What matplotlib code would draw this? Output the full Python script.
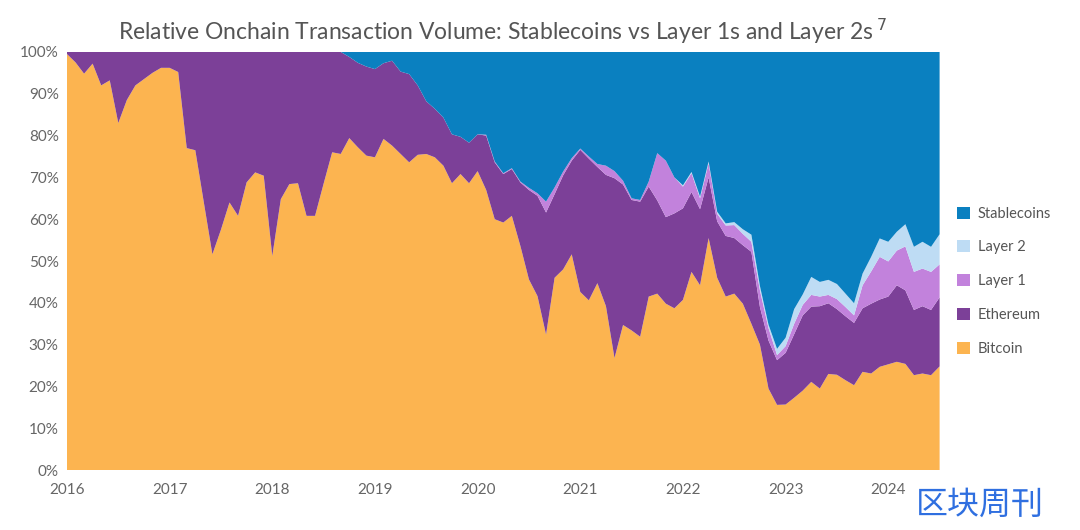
import numpy as np
import matplotlib
matplotlib.use("Agg")
import matplotlib.pyplot as plt

# Monthly shares (%), Jan 2016 .. Jul 2024
bitcoin = [99.5, 97.5, 94.8, 97.2, 92.0, 93.2, 83.0, 88.5, 92.0, 93.5, 95.0, 96.2,
           96.2, 95.2, 77.0, 76.5, 64.0, 51.6, 57.5, 64.0, 60.8, 68.8, 71.2, 70.4,
           51.2, 64.8, 68.4, 68.6, 60.8, 60.8, 68.5, 76.0, 75.6, 79.4, 77.2, 75.2,
           74.8, 79.2, 77.6, 75.6, 73.6, 75.4, 75.6, 74.8, 72.8, 68.6, 70.8, 68.6,
           71.5, 67.0, 60.0, 59.2, 60.8, 53.6, 45.6, 41.6, 32.4, 46.0, 48.0, 51.6,
           42.6, 40.6, 44.7, 39.2, 26.8, 34.7, 33.4, 31.9, 41.5, 42.2, 39.8, 38.7,
           40.7, 47.4, 44.2, 55.5, 46.0, 41.5, 42.2, 39.8, 35.0, 30.0, 19.5, 15.6,
           15.6, 17.3, 19.0, 21.1, 19.5, 23.0, 22.8, 21.5, 20.3, 23.5, 23.1, 24.7,
           25.3, 25.9, 25.4, 22.7, 23.1, 22.7, 24.8]
ethereum = [0.5, 2.5, 5.2, 2.8, 8.0, 6.8, 17.0, 11.5, 8.0, 6.5, 5.0, 3.8,
            3.8, 4.8, 23.0, 23.5, 36.0, 48.4, 42.5, 36.0, 39.2, 31.2, 28.8, 29.6,
            48.8, 35.2, 31.6, 31.4, 39.2, 39.2, 31.5, 24.0, 24.4, 19.4, 20.2, 21.3,
            21.1, 18.1, 20.3, 19.7, 21.1, 16.6, 12.6, 11.6, 11.5, 11.7, 8.9, 9.7,
            8.8, 13.0, 13.6, 11.6, 11.2, 15.2, 21.4, 24.0, 29.2, 20.0, 22.5, 22.4,
            34.0, 33.9, 27.8, 31.4, 43.0, 33.6, 31.2, 32.3, 26.3, 22.3, 20.7, 22.7,
            21.9, 19.1, 18.2, 14.5, 13.5, 14.5, 13.3, 14.0, 17.2, 9.0, 11.5, 10.7,
            12.3, 15.2, 18.0, 18.0, 19.7, 16.9, 15.7, 15.3, 14.9, 15.2, 16.7, 16.1,
            16.2, 18.3, 17.6, 15.6, 16.1, 15.6, 16.5]
layer1 = [0] * 49 + [0.2, 0.2, 0.2, 0.2, 0.2, 0.5, 0.6, 2.6, 1.6, 0.9, 0.6,
                     0.3, 0.5, 0.7, 2.2, 1.7, 0.9, 0.4, 0.4, 1.2, 11.3, 13.5, 8.6,
                     5.2, 4.5, 2.6, 3.4, 1.8, 2.5, 3.1, 2.7, 2.4, 4.0, 3.0, 1.2,
                     1.6, 2.5, 2.5, 2.8, 2.3, 2.0, 2.4, 2.2, 1.8, 5.5, 7.7, 10.2,
                     8.4, 8.3, 10.5, 9.1, 9.0, 9.1, 7.9]
layer2 = [0] * 72 + [0.3, 0.3, 0.4, 0.4, 0.5, 0.5, 0.7, 1.1, 1.7, 1.0, 0.8, 1.5,
                     2.0, 3.5, 2.5, 4.3, 3.5, 3.6, 3.6, 3.2, 2.9, 2.8, 3.5, 4.4,
                     4.7, 4.5, 5.3, 6.0, 6.4, 6.0, 7.2]
stablecoins = [0] * 33 + [1.2, 2.6, 3.5,
                          4.1, 2.7, 2.1, 4.7, 5.3, 8.0, 11.8, 13.6, 15.7, 19.7, 20.3, 21.7,
                          19.7, 19.8, 26.2, 29.0, 27.8, 31.0, 32.5, 33.8, 35.8, 32.4, 28.6, 25.4,
                          23.1, 25.0, 26.8, 27.2, 28.5, 30.8, 35.0, 35.4, 31.0, 24.2, 26.0, 30.0,
                          31.9, 28.7, 34.6, 26.2, 38.2, 41.0, 40.7, 42.4, 43.7, 56.0, 65.2, 71.0,
                          68.0, 61.5, 58.0, 53.8, 55.0, 54.5, 55.5, 57.8, 60.1, 53.0, 49.0, 44.6,
                          45.4, 43.0, 41.2, 46.6, 45.4, 46.6, 43.6]

names = ["Bitcoin", "Ethereum", "Layer 1", "Layer 2", "Stablecoins"]
colors = ["#FCB450", "#7C4098", "#C282DC", "#BEDCF4", "#0A80C0"]

series = np.array([bitcoin, ethereum, layer1, layer2, stablecoins], dtype=float)
series = series / series.sum(axis=0) * 100
x = 2016 + np.arange(series.shape[1]) / 12

plt.rcParams['font.family'] = ['Lato', 'DejaVu Sans']

fig = plt.figure(figsize=(10.8, 5.3), dpi=100)
ax = fig.add_axes([0.062, 0.113, 0.808, 0.789])

polys = ax.stackplot(x, series, colors=colors, labels=names, linewidth=0)

ax.set_xlim(2016, x[-1])
ax.set_ylim(0, 100)
ax.set_xticks(range(2016, 2025))
ax.set_yticks(range(0, 101, 10))
ax.set_yticklabels([f"{v}%" for v in range(0, 101, 10)])
ax.tick_params(length=0, labelsize=11, colors="#666666")
ax.tick_params(axis="x", pad=9)
ax.tick_params(axis="y", pad=6)
for s in ax.spines.values():
    s.set_visible(False)

fig.text(0.465, 0.94, "Relative Onchain Transaction Volume: Stablecoins vs Layer 1s and Layer 2s$\\,^{7}$",
         ha="center", va="center", fontsize=16.5, color="#555555")

handles = polys[::-1]
leg = ax.legend(handles, names[::-1], loc="center left", bbox_to_anchor=(1.005, 0.452),
                frameon=False, fontsize=10.5, handlelength=0.9, handleheight=0.9,
                handletextpad=0.5, labelspacing=1.35)
for t in leg.get_texts():
    t.set_color("#555555")

fig.text(0.907, 0.047, "区块周刊", ha="center", va="center", fontsize=23,
         color="#2F6FE0", family=["Noto Sans CJK SC", "DejaVu Sans"])

fig.savefig("out.png", dpi=100)
